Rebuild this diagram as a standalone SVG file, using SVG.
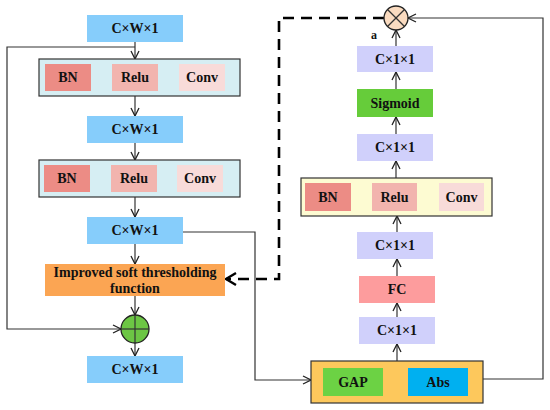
<svg xmlns="http://www.w3.org/2000/svg" width="550" height="410" viewBox="0 0 550 410">
<defs>
<style>
text{font-family:"Liberation Serif","Times New Roman",serif;font-weight:bold;font-size:14px;fill:#111;text-anchor:middle;dominant-baseline:central}
.cw{fill:#86cdfb}
.pb{fill:#d0d0fb}
.blk{fill:#d6eef3;stroke:#333;stroke-width:1.2}
.bn{fill:#ec8c85}
.re{fill:#f2b4ae}
.cv{fill:#f8dbd9}
.ln{fill:none;stroke:#333;stroke-width:1.2}
.dash{fill:none;stroke:#000;stroke-width:2.6;stroke-dasharray:11,7}
</style>
<marker id="ar" viewBox="0 0 10 10" refX="9" refY="5" markerWidth="10" markerHeight="10" markerUnits="userSpaceOnUse" orient="auto">
<polyline points="1,1 9,5 1,9" fill="none" stroke="#222" stroke-width="1.3"/>
</marker>
<marker id="ard" viewBox="0 0 14 14" refX="2" refY="7" markerWidth="14" markerHeight="14" markerUnits="userSpaceOnUse" orient="auto">
<polyline points="12,1 2,7 12,13" fill="none" stroke="#000" stroke-width="2.4"/>
</marker>
</defs>
<rect width="550" height="410" fill="#fff"/>
<g id="connectors">
<line class="ln" x1="135" y1="42" x2="135" y2="59" marker-end="url(#ar)"/>
<polyline class="ln" points="135,47 7,47 7,329 121,329" marker-end="url(#ar)"/>
<line class="ln" x1="135" y1="96" x2="135" y2="116" marker-end="url(#ar)"/>
<line class="ln" x1="135" y1="143" x2="135" y2="160" marker-end="url(#ar)"/>
<line class="ln" x1="135" y1="197" x2="135" y2="217" marker-end="url(#ar)"/>
<line class="ln" x1="135" y1="244" x2="135" y2="264" marker-end="url(#ar)"/>
<line class="ln" x1="135" y1="296" x2="135" y2="315" marker-end="url(#ar)"/>
<line class="ln" x1="135" y1="343" x2="135" y2="356" marker-end="url(#ar)"/>
<polyline class="ln" points="183,232 255,232 255,380 311,380" marker-end="url(#ar)"/>
<line class="ln" x1="397" y1="361" x2="397" y2="344" marker-end="url(#ar)"/>
<line class="ln" x1="397" y1="317" x2="397" y2="303" marker-end="url(#ar)"/>
<line class="ln" x1="397" y1="276" x2="397" y2="259" marker-end="url(#ar)"/>
<line class="ln" x1="397" y1="232" x2="397" y2="216" marker-end="url(#ar)"/>
<line class="ln" x1="396" y1="178" x2="396" y2="161" marker-end="url(#ar)"/>
<line class="ln" x1="396" y1="134" x2="396" y2="117" marker-end="url(#ar)"/>
<line class="ln" x1="396" y1="89" x2="396" y2="72" marker-end="url(#ar)"/>
<line class="ln" x1="396" y1="46" x2="396" y2="30" marker-end="url(#ar)"/>
<polyline class="ln" points="483,379 543,379 543,18 408,18" marker-end="url(#ar)"/>
<polyline class="dash" points="384,18 279,18 279,279 226,279"/>
<polyline fill="none" stroke="#000" stroke-width="2.4" points="236,273 226,279 236,285"/>
</g>
<g id="n_cw1"><rect class="cw" x="87" y="15" width="96" height="27"/><text x="135" y="28.5">C×W×1</text></g>
<g id="n_block1">
<rect class="blk" x="39" y="59" width="201" height="37"/>
<rect class="bn" x="45" y="64" width="46" height="27"/><text x="68" y="77.5">BN</text>
<rect class="re" x="112" y="64" width="46" height="27"/><text x="135" y="77.5">Relu</text>
<rect class="cv" x="179" y="64" width="46" height="27"/><text x="202" y="77.5">Conv</text>
</g>
<g id="n_cw2"><rect class="cw" x="87" y="116" width="96" height="27"/><text x="135" y="129.5">C×W×1</text></g>
<g id="n_block2">
<rect class="blk" x="39" y="160" width="201" height="37"/>
<rect class="bn" x="44" y="165" width="46" height="27"/><text x="67" y="178.5">BN</text>
<rect class="re" x="111" y="165" width="46" height="27"/><text x="134" y="178.5">Relu</text>
<rect class="cv" x="177" y="165" width="46" height="27"/><text x="200" y="178.5">Conv</text>
</g>
<g id="n_cw3"><rect class="cw" x="87" y="217" width="96" height="27"/><text x="135" y="230.5">C×W×1</text></g>
<g id="n_thresh"><rect x="45" y="264" width="180" height="32" fill="#fba553"/><text x="135" y="272">Improved soft thresholding</text><text x="135" y="288">function</text></g>
<g id="n_add"><circle cx="135" cy="329" r="14" fill="#6cc644" stroke="#222" stroke-width="1.3"/><line class="ln" x1="121" y1="329" x2="149" y2="329"/><line class="ln" x1="135" y1="315" x2="135" y2="343"/></g>
<g id="n_cw4"><rect class="cw" x="87" y="356" width="96" height="27"/><text x="135" y="369.5">C×W×1</text></g>
<g id="n_mul"><circle cx="396" cy="18" r="12" fill="#fadbc0" stroke="#222" stroke-width="1.3"/><line class="ln" x1="387.5" y1="9.5" x2="404.5" y2="26.5"/><line class="ln" x1="404.5" y1="9.5" x2="387.5" y2="26.5"/></g>
<g id="n_a"><text x="374" y="35" style="font-size:12px">a</text></g>
<g id="n_c1"><rect class="pb" x="357" y="46" width="76" height="26"/><text x="395" y="59">C×1×1</text></g>
<g id="n_sig"><rect x="357" y="89" width="76" height="28" fill="#66cc3a"/><text x="395" y="103">Sigmoid</text></g>
<g id="n_c2"><rect class="pb" x="357" y="134" width="76" height="27"/><text x="395" y="147.5">C×1×1</text></g>
<g id="n_block3">
<rect x="301" y="178" width="191" height="38" fill="#fdfbd2" stroke="#333" stroke-width="1.2"/>
<rect class="bn" x="305" y="183" width="46" height="28"/><text x="328" y="197">BN</text>
<rect class="re" x="372" y="183" width="45" height="28"/><text x="394.5" y="197">Relu</text>
<rect class="cv" x="439" y="183" width="45" height="28"/><text x="461.5" y="197">Conv</text>
</g>
<g id="n_c3"><rect class="pb" x="357" y="232" width="76" height="27"/><text x="395" y="245.5">C×1×1</text></g>
<g id="n_fc"><rect x="359" y="276" width="76" height="27" fill="#fd9c9d"/><text x="397" y="289.5">FC</text></g>
<g id="n_c4"><rect class="pb" x="359" y="317" width="76" height="27"/><text x="397" y="330.5">C×1×1</text></g>
<g id="n_gap">
<rect x="311" y="361" width="172" height="42" fill="#fdc85c" stroke="#333" stroke-width="1.2"/>
<rect x="323" y="368" width="60" height="28" fill="#6cd244"/><text x="353" y="382">GAP</text>
<rect x="408" y="368" width="60" height="28" fill="#00b0f0"/><text x="438" y="382">Abs</text>
</g>
</svg>
